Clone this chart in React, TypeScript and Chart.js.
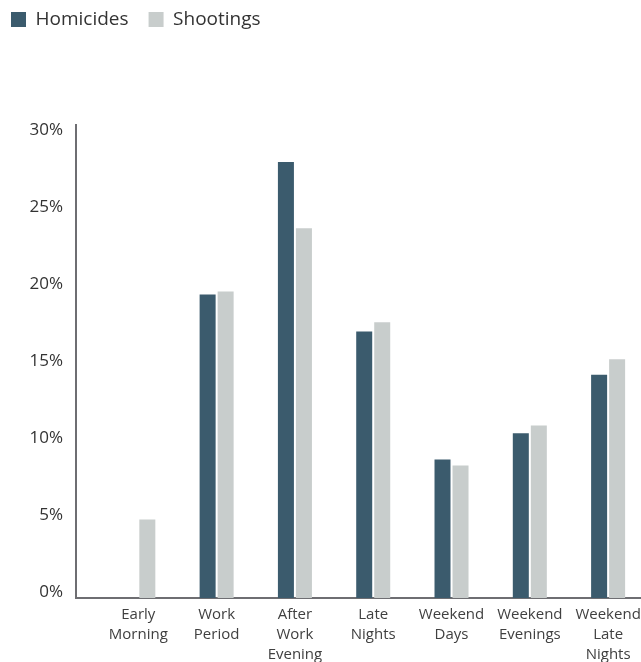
import React, { useEffect, useRef } from "react";
import { Chart, registerables } from "chart.js";

Chart.register(...registerables);

const categories: string[][] = [
  ["Early", "Morning"],
  ["Work", "Period"],
  ["After", "Work", "Evening"],
  ["Late", "Nights"],
  ["Weekend", "Days"],
  ["Weekend", "Evenings"],
  ["Weekend", "Late", "Nights"],
];
const homicides: number[] = [0, 19.7, 28.3, 17.3, 9.0, 10.7, 14.5];
const shootings: number[] = [5.1, 19.9, 24.0, 17.9, 8.6, 11.2, 15.5];
const yTicks: number[] = [0, 5, 10, 15, 20, 25, 30];

const FONT = "'Open Sans', sans-serif";

export default function App() {
  const ref = useRef<HTMLCanvasElement | null>(null);
  useEffect(() => {
    if (!ref.current) return;
    const legendHeight = {
      id: "legendHeight",
      beforeInit(chart: any) {
        const orig = chart.legend.fit;
        chart.legend.fit = function () {
          orig.call(this);
          this.height = 135;
        };
      },
    };
    const chart = new Chart(ref.current, {
      type: "bar",
      data: {
        datasets: [
          {
            label: "Homicides",
            data: homicides.map((v, i) => ({ x: i, y: v })),
            backgroundColor: "#3b5b6d",
            categoryPercentage: 0.46,
            barPercentage: 0.889,
          },
          {
            label: "Shootings",
            data: shootings.map((v, i) => ({ x: i, y: v })),
            backgroundColor: "#c8cdcc",
            categoryPercentage: 0.46,
            barPercentage: 0.889,
          },
        ],
      },
      options: {
        animation: false,
        responsive: false,
        layout: { padding: { top: -10, left: -9, right: 0, bottom: 0 } },
        plugins: {
          tooltip: { enabled: false },
          legend: {
            position: "top",
            align: "start",
            labels: {
              boxWidth: 15,
              boxHeight: 15,
              padding: 20,
              color: "#333",
              font: { family: FONT, size: 19 },
            },
          },
        },
        scales: {
          x: {
            type: "linear",
            offset: false,
            min: -0.796,
            max: 6.42,
            grid: { display: false, drawTicks: false, offset: false },
            border: { display: true, color: "#6e6e72", width: 2 },
            afterBuildTicks: (scale: any) => {
              scale.ticks = categories.map((_, i) => ({ value: i }));
            },
            afterFit: (scale: any) => {
              scale.height = 64;
              scale.paddingLeft = 0;
              scale.paddingRight = 0;
            },
            ticks: {
              autoSkip: false,
              maxRotation: 0,
              padding: 7,
              color: "#404040",
              font: { family: FONT, size: 15, lineHeight: "20px" },
              callback: (v: any) => categories[v as number] ?? "",
            },
          },
          y: {
            min: 0,
            max: 30.71,
            grid: { display: false, drawTicks: false },
            border: { display: true, color: "#6e6e72", width: 2 },
            afterBuildTicks: (scale: any) => {
              scale.ticks = yTicks.map((v) => ({ value: v }));
            },
            afterFit: (scale: any) => {
              scale.width = 85;
            },
            ticks: {
              padding: 13,
              labelOffset: -6,
              color: "#333",
              font: { family: FONT, size: 17 },
              callback: (v: any) => v + "%",
            },
          },
        },
      },
      plugins: [legendHeight],
    } as any);
    return () => chart.destroy();
  }, []);
  return (
    <div style={{ position: "absolute", left: 0, top: 0, width: 641, height: 662 }}>
      <canvas ref={ref} width={641} height={662} style={{ display: "block" }} />
    </div>
  );
}
